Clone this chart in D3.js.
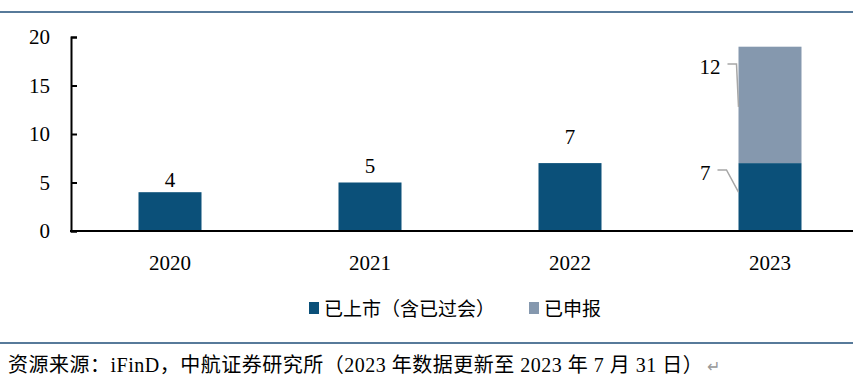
<!DOCTYPE html>
<html lang="zh">
<head>
<meta charset="utf-8">
<title>已上市与已申报数量</title>
<script src="https://cdn.jsdelivr.net/npm/d3@7"></script>
<style>
  body { margin: 0; background: #fff; }
  svg { display: block; }
</style>
</head>
<body>
<script>
var years = ["2020", "2021", "2022", "2023"];
var listed = [4, 5, 7, 7];
var filed = [0, 0, 0, 12];
var yTicks = [0, 5, 10, 15, 20];
var seriesNames = ["已上市（含已过会）", "已申报"];
var source = "资源来源：iFinD，中航证券研究所（2023 年数据更新至 2023 年 7 月 31 日）";

var width = 853, height = 375;
var dark = "#0b5079", light = "#8598ae";
var numFont = "'Liberation Serif', 'DejaVu Serif', serif";
var cjkFont = "'Noto Sans CJK SC', sans-serif";

var svg = d3.select("body").append("svg")
    .attr("width", width)
    .attr("height", height);

// frame lines
svg.append("line").attr("x1", 0).attr("x2", width).attr("y1", 12).attr("y2", 12)
    .attr("stroke", "#1f4e79").attr("stroke-width", 1.5);
svg.append("line").attr("x1", 0).attr("x2", width).attr("y1", 343).attr("y2", 343)
    .attr("stroke", "#1f4e79").attr("stroke-width", 1.5);

var x = d3.scaleBand().domain(years).range([70, 870]).paddingInner(0.685).paddingOuter(0.3425);
var y = d3.scaleLinear().domain([0, 20]).range([231, 37]);

var data = years.map(function (d, i) {
    return { year: d, listed: listed[i], filed: filed[i] };
});

// bars
svg.selectAll(".bar-listed").data(data).enter().append("rect")
    .attr("x", function (d) { return x(d.year); })
    .attr("width", x.bandwidth())
    .attr("y", function (d) { return y(d.listed); })
    .attr("height", function (d) { return y(0) - y(d.listed); })
    .attr("fill", dark);

svg.selectAll(".bar-filed").data(data.filter(function (d) { return d.filed > 0; })).enter().append("rect")
    .attr("x", function (d) { return x(d.year); })
    .attr("width", x.bandwidth())
    .attr("y", function (d) { return y(d.listed + d.filed); })
    .attr("height", function (d) { return y(d.listed) - y(d.listed + d.filed); })
    .attr("fill", light);

// y axis
var yAxis = svg.append("g")
    .attr("transform", "translate(71,0)")
    .call(d3.axisLeft(y).tickValues(yTicks).tickSizeInner(-6).tickSizeOuter(-6).tickPadding(21));
yAxis.select(".domain").attr("stroke", "#000").attr("stroke-width", 2);
yAxis.selectAll(".tick line").attr("stroke", "#000").attr("stroke-width", 2);
yAxis.selectAll(".tick text").attr("font-family", numFont).attr("font-size", 21).attr("fill", "#000");

// x axis baseline
svg.append("line").attr("x1", 70).attr("x2", width).attr("y1", y(0)).attr("y2", y(0))
    .attr("stroke", "#000").attr("stroke-width", 2);

svg.selectAll(".xlab").data(years).enter().append("text")
    .attr("x", function (d) { return x(d) + x.bandwidth() / 2; })
    .attr("y", 270)
    .attr("text-anchor", "middle")
    .attr("font-family", numFont).attr("font-size", 21)
    .text(function (d) { return d; });

// value labels for single bars (label lift grows a little with the bar, as in the source)
svg.selectAll(".vlab").data(data.filter(function (d) { return d.filed === 0; })).enter().append("text")
    .attr("x", function (d) { return x(d.year) + x.bandwidth() / 2; })
    .attr("y", function (d) { return y(d.listed) - (5 + (d.listed - 4) * 4.7); })
    .attr("text-anchor", "middle")
    .attr("font-family", numFont).attr("font-size", 21)
    .text(function (d) { return d.listed; });

// callout labels for stacked bar
var last = data[data.length - 1];
var bx = x(last.year);
var callouts = [
    { value: last.filed, mid: y(last.listed + last.filed * 0.5), ly: 64, tx: bx - 12 },
    { value: last.listed, mid: y(last.listed * 0.5) - 7, ly: 170, tx: bx - 22 }
];
callouts.forEach(function (c) {
    svg.append("path")
        .attr("d", "M" + (c.tx + 1) + "," + c.ly + "H" + (c.tx + 10) + "L" + (bx) + "," + (c.mid + 2))
        .attr("fill", "none").attr("stroke", "#a6a6a6").attr("stroke-width", 1.5);
    svg.append("text")
        .attr("x", c.tx - 6).attr("y", c.ly + 10)
        .attr("text-anchor", "end")
        .attr("font-family", numFont).attr("font-size", 21)
        .text(c.value);
});

// legend
var legend = svg.append("g");
var items = [{ name: seriesNames[0], color: dark, x: 309 }, { name: seriesNames[1], color: light, x: 529 }];
items.forEach(function (it) {
    legend.append("rect").attr("x", it.x).attr("y", 302).attr("width", 10).attr("height", 12).attr("fill", it.color);
    legend.append("text").attr("x", it.x + 15).attr("y", 316)
        .attr("font-family", cjkFont).attr("font-size", 19).attr("fill", "#000")
        .text(it.name);
});

// source note
var note = svg.append("text").attr("x", 8).attr("y", 372)
    .attr("font-family", "'Liberation Serif', 'Noto Sans CJK SC', serif").attr("font-size", 20)
    .attr("letter-spacing", 0.5);
note.append("tspan").text(source);
note.append("tspan").attr("fill", "#999").attr("font-size", 16).attr("dx", 4).text("↵");
</script>
</body>
</html>
